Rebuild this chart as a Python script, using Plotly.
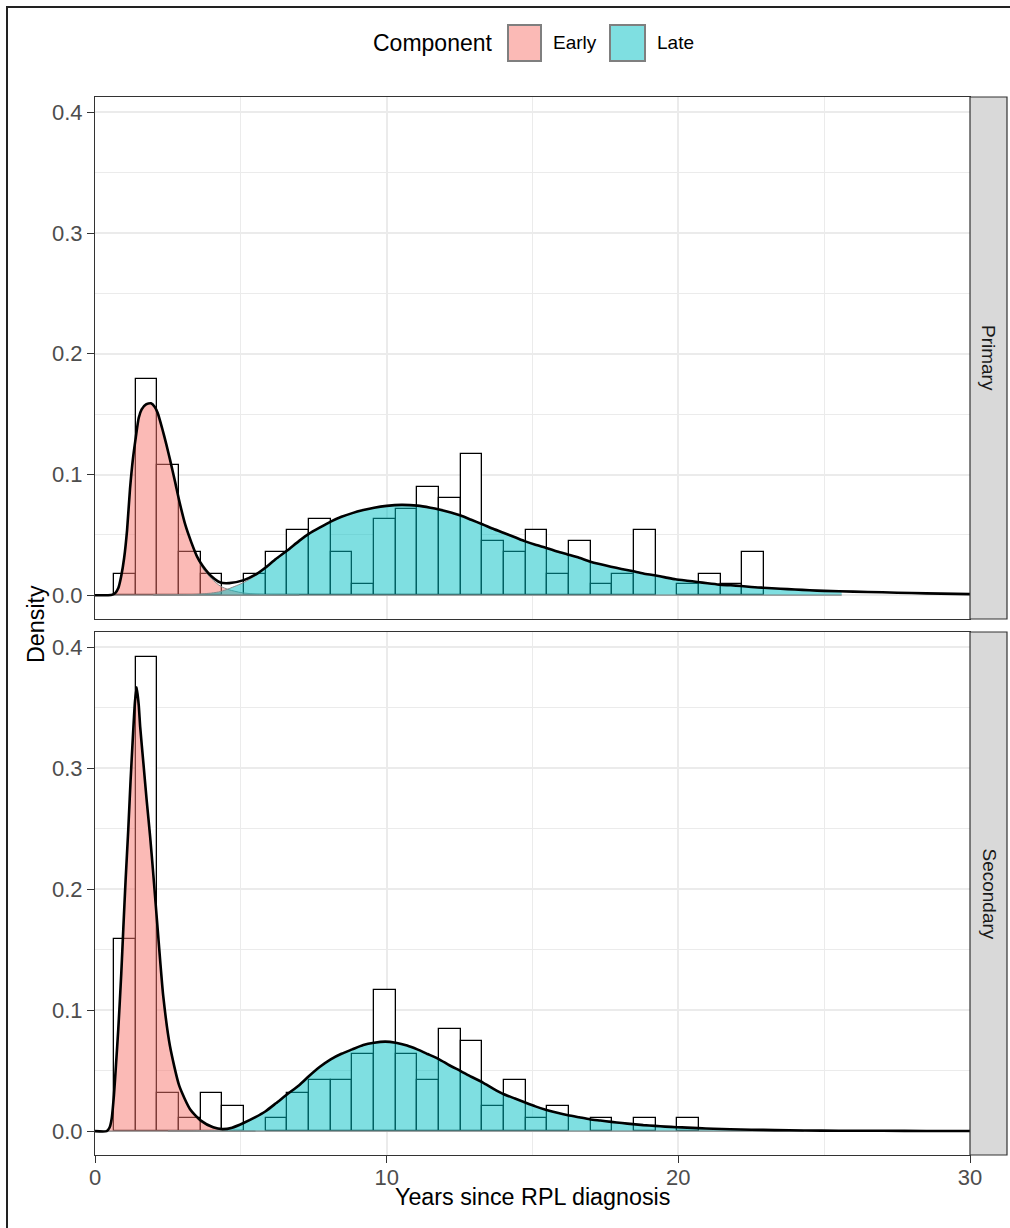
import plotly.graph_objects as go

# ---------------- data ----------------
bin_centers = [1.022, 1.765, 2.508, 3.251, 3.994, 4.737, 5.480, 6.223, 6.966, 7.709,
               8.452, 9.195, 9.938, 10.681, 11.424, 12.167, 12.910, 13.653, 14.396, 15.139,
               15.882, 16.625, 17.368, 18.111, 18.854, 19.597, 20.340, 21.083, 21.826, 22.569]
bin_width = 0.743

primary_density = [0.0179, 0.1795, 0.1077, 0.0359, 0.0179, 0.0, 0.0179, 0.0359, 0.0538, 0.0628,
                   0.0359, 0.0090, 0.0628, 0.0718, 0.0897, 0.0808, 0.1166, 0.0449, 0.0359, 0.0538,
                   0.0179, 0.0449, 0.0090, 0.0179, 0.0538, 0.0, 0.0090, 0.0179, 0.0090, 0.0359]
secondary_density = [0.159, 0.3921, 0.0318, 0.0106, 0.0318, 0.0212, 0.0, 0.0106, 0.0318, 0.0424,
                     0.0424, 0.0636, 0.1166, 0.0636, 0.0424, 0.0848, 0.0742, 0.0212, 0.0424, 0.0106,
                     0.0212, 0.0, 0.0106, 0.0, 0.0106, 0.0, 0.0106, 0.0, 0.0, 0.0]

# Primary: fitted component densities
p_early_x = [0.45, 0.6, 0.7, 0.8, 0.9, 1.0, 1.1, 1.2, 1.3, 1.4, 1.5, 1.6, 1.75, 1.92, 2.05, 2.15,
             2.3, 2.45, 2.57, 2.75, 2.9, 3.1, 3.3, 3.5, 3.7, 4.0, 4.3, 4.6, 5.0, 5.5, 6.0, 7.0]
p_early_y = [0.0, 0.0005, 0.002, 0.006, 0.016, 0.031, 0.054, 0.088, 0.113, 0.131, 0.147, 0.154,
             0.158, 0.159, 0.156, 0.151, 0.1385, 0.1245, 0.1125, 0.0935, 0.077, 0.058, 0.043,
             0.031, 0.022, 0.0135, 0.0075, 0.0045, 0.0022, 0.0009, 0.0003, 0.0]
p_late_x = [2.0, 3.0, 3.5, 4.0, 4.3, 4.6, 5.1, 5.5, 5.85, 6.2, 6.59, 7.0, 7.34, 7.7, 8.08, 8.45,
            8.82, 9.2, 9.57, 10.0, 10.5, 11.05, 11.5, 11.8, 12.2, 12.54, 12.9, 13.3, 13.65, 14.0,
            14.4, 14.73, 15.1, 15.5, 15.85, 16.2, 16.6, 16.96, 17.3, 17.69, 18.05, 18.42, 18.8,
            19.18, 19.55, 19.9, 20.3, 20.65, 21.0, 21.4, 21.8, 22.15, 22.5, 22.9, 23.5, 24.0,
            24.5, 25.0, 25.6]
p_late_y = [0.0, 0.0003, 0.0008, 0.0018, 0.003, 0.0055, 0.0105, 0.0162, 0.0225, 0.0298, 0.037,
            0.045, 0.051, 0.056, 0.061, 0.065, 0.068, 0.0705, 0.0725, 0.074, 0.0748, 0.0742,
            0.0725, 0.071, 0.0685, 0.066, 0.0625, 0.0586, 0.055, 0.0517, 0.048, 0.0448, 0.0418,
            0.039, 0.0362, 0.0338, 0.031, 0.028, 0.0258, 0.0236, 0.0218, 0.020, 0.018, 0.0165,
            0.0148, 0.0132, 0.012, 0.011, 0.0099, 0.0088, 0.0082, 0.0076, 0.0068, 0.0062,
            0.0054, 0.0047, 0.0041, 0.0036, 0.0031]
p_total_x = [0.0, 0.45, 0.6, 0.7, 0.8, 0.9, 1.0, 1.1, 1.2, 1.3, 1.4, 1.5, 1.6, 1.75, 1.92, 2.05,
             2.15, 2.3, 2.45, 2.57, 2.75, 2.9, 3.1, 3.3, 3.5, 3.7, 4.0, 4.3, 4.6, 5.1, 5.5, 5.85,
             6.2, 6.59, 7.0, 7.34, 7.7, 8.08, 8.45, 8.82, 9.2, 9.57, 10.0, 10.5, 11.05, 11.5,
             11.8, 12.2, 12.54, 12.9, 13.3, 13.65, 14.0, 14.4, 14.73, 15.1, 15.5, 15.85, 16.2,
             16.6, 16.96, 17.3, 17.69, 18.05, 18.42, 18.8, 19.18, 19.55, 19.9, 20.3, 20.65, 21.0,
             21.4, 21.8, 22.15, 22.5, 22.9, 23.5, 24.0, 24.5, 25.0, 26.0, 27.0, 28.0, 29.0, 30.0]
p_total_y = [0.0, 0.0, 0.0005, 0.002, 0.006, 0.016, 0.031, 0.054, 0.088, 0.113, 0.131, 0.147,
             0.154, 0.158, 0.159, 0.156, 0.151, 0.1385, 0.1245, 0.1125, 0.0935, 0.077, 0.058,
             0.044, 0.032, 0.024, 0.0155, 0.0105, 0.010, 0.0125, 0.017, 0.023, 0.030, 0.037,
             0.045, 0.051, 0.056, 0.061, 0.065, 0.068, 0.0705, 0.0725, 0.074, 0.0748, 0.0742,
             0.0725, 0.071, 0.0685, 0.066, 0.0625, 0.0586, 0.055, 0.0517, 0.048, 0.0448, 0.0418,
             0.039, 0.0362, 0.0338, 0.031, 0.028, 0.0258, 0.0236, 0.0218, 0.020, 0.018, 0.0165,
             0.0148, 0.0132, 0.012, 0.011, 0.0099, 0.0088, 0.0082, 0.0076, 0.0068, 0.0062,
             0.0054, 0.0047, 0.0041, 0.0036, 0.003, 0.0024, 0.0018, 0.0013, 0.0009]

# Secondary: fitted component densities
s_early_x = [0.4, 0.5, 0.57, 0.65, 0.72, 0.8, 0.9, 0.97, 1.05, 1.14, 1.22, 1.31, 1.37, 1.43,
             1.5, 1.55, 1.66, 1.77, 1.89, 2.0, 2.15, 2.34, 2.57, 2.89, 3.26, 3.63, 4.05, 4.37,
             4.7, 5.11, 5.5]
s_early_y = [0.0, 0.003, 0.01, 0.03, 0.055, 0.085, 0.13, 0.167, 0.208, 0.249, 0.29, 0.331,
             0.355, 0.367, 0.352, 0.334, 0.304, 0.274, 0.2436, 0.212, 0.1666, 0.1116, 0.0704,
             0.0374, 0.0181, 0.0084, 0.0027, 0.0009, 0.0004, 0.0002, 0.0]
s_late_x = [2.5, 3.26, 3.63, 4.05, 4.37, 4.7, 5.11, 5.5, 5.85, 6.2, 6.59, 7.0, 7.34, 7.7, 8.08,
            8.45, 8.82, 9.2, 9.57, 9.95, 10.31, 10.7, 11.05, 11.4, 11.8, 12.15, 12.54, 12.9,
            13.3, 13.65, 14.02, 14.4, 14.75, 15.1, 15.48, 15.85, 16.22, 16.6, 16.96, 17.33,
            17.7, 18.07, 18.44, 18.8, 19.2, 19.55, 19.94, 20.3, 20.68, 21.2, 21.78, 22.5, 23.3,
            24.3]
s_late_y = [0.0, 0.0001, 0.0003, 0.0005, 0.0008, 0.0025, 0.0068, 0.0115, 0.0165, 0.023, 0.0305,
            0.038, 0.0456, 0.053, 0.0594, 0.064, 0.0676, 0.0712, 0.0731, 0.074, 0.0731, 0.0708,
            0.0676, 0.0638, 0.0594, 0.0545, 0.0497, 0.045, 0.0402, 0.0352, 0.0305, 0.027,
            0.0237, 0.0205, 0.0176, 0.0152, 0.0132, 0.0115, 0.0099, 0.0088, 0.0077, 0.0067,
            0.0058, 0.005, 0.0044, 0.0038, 0.0033, 0.0029, 0.0025, 0.002, 0.0016, 0.0012,
            0.0009, 0.0006]
s_total_x = [0.0, 0.4, 0.5, 0.57, 0.65, 0.72, 0.8, 0.9, 0.97, 1.05, 1.14, 1.22, 1.31, 1.37,
             1.43, 1.5, 1.55, 1.66, 1.77, 1.89, 2.0, 2.15, 2.34, 2.57, 2.89, 3.26, 3.63, 4.05,
             4.37, 4.7, 5.11, 5.5, 5.85, 6.2, 6.59, 7.0, 7.34, 7.7, 8.08, 8.45, 8.82, 9.2, 9.57,
             9.95, 10.31, 10.7, 11.05, 11.4, 11.8, 12.15, 12.54, 12.9, 13.3, 13.65, 14.02, 14.4,
             14.75, 15.1, 15.48, 15.85, 16.22, 16.6, 16.96, 17.33, 17.7, 18.07, 18.44, 18.8,
             19.2, 19.55, 19.94, 20.3, 20.68, 21.2, 21.78, 22.5, 23.3, 24.3, 25.5, 27.0, 28.5,
             30.0]
s_total_y = [0.0, 0.0, 0.003, 0.01, 0.03, 0.055, 0.085, 0.13, 0.167, 0.208, 0.249, 0.29, 0.331,
             0.355, 0.367, 0.352, 0.334, 0.304, 0.274, 0.2436, 0.212, 0.1666, 0.1116, 0.0704,
             0.0374, 0.0182, 0.0087, 0.0032, 0.0017, 0.0029, 0.007, 0.0116, 0.0165, 0.023,
             0.0305, 0.038, 0.0456, 0.053, 0.0594, 0.064, 0.0676, 0.0712, 0.0731, 0.074, 0.0731,
             0.0708, 0.0676, 0.0638, 0.0594, 0.0545, 0.0497, 0.045, 0.0402, 0.0352, 0.0305,
             0.027, 0.0237, 0.0205, 0.0176, 0.0152, 0.0132, 0.0115, 0.0099, 0.0088, 0.0077,
             0.0067, 0.0058, 0.005, 0.0044, 0.0038, 0.0033, 0.0029, 0.0025, 0.002, 0.0016,
             0.0012, 0.0009, 0.0006, 0.0004, 0.0003, 0.0002, 0.0001]

panels = ["Primary", "Secondary"]
components = ["Early", "Late"]
x_ticks = [0, 10, 20, 30]
y_ticks = [0.0, 0.1, 0.2, 0.3, 0.4]

# ---------------- style ----------------
FONT = "Liberation Sans, Arial, sans-serif"
EARLY_FILL = "rgba(248,118,109,0.5)"
LATE_FILL = "rgba(0,191,196,0.5)"
AREA_LINE = "#8a8a8a"
GRID = "#EBEBEB"
BORDER = "#333333"
TICK_SIZE = 22
TITLE_SIZE = 23.3

fig = go.Figure()

panel_data = [
    ("x", "y", primary_density, p_early_x, p_early_y, p_late_x, p_late_y, p_total_x, p_total_y),
    ("x2", "y2", secondary_density, s_early_x, s_early_y, s_late_x, s_late_y, s_total_x, s_total_y),
]

for xa, ya, dens, ex, ey, lx, ly, tx, ty in panel_data:
    # histogram bars (white fill, black outline)
    fig.add_trace(go.Bar(
        x=bin_centers, y=[d if d > 0 else None for d in dens], width=bin_width,
        marker=dict(color="white", line=dict(color="black", width=1.3)),
        xaxis=xa, yaxis=ya, showlegend=False, hoverinfo="skip"))
    # component areas
    for cx, cy, col in [(ex, ey, EARLY_FILL), (lx, ly, LATE_FILL)]:
        fig.add_trace(go.Scatter(
            x=cx, y=cy, mode="lines", fill="tozeroy", fillcolor=col,
            line=dict(color=AREA_LINE, width=1, shape="spline", smoothing=0.6),
            xaxis=xa, yaxis=ya, showlegend=False, hoverinfo="skip"))
        fig.add_trace(go.Scatter(
            x=[cx[0], cx[-1]], y=[0, 0], mode="lines",
            line=dict(color=AREA_LINE, width=1.2),
            xaxis=xa, yaxis=ya, showlegend=False, hoverinfo="skip"))
    # total mixture density
    fig.add_trace(go.Scatter(
        x=tx, y=ty, mode="lines",
        line=dict(color="black", width=2.6, shape="spline", smoothing=0.6),
        xaxis=xa, yaxis=ya, showlegend=False, hoverinfo="skip"))

# ---------------- layout ----------------
W, H = 1010, 1228
ML, MR, MT, MB = 95, 40, 97, 73
PW, PH = W - ML - MR, H - MT - MB


def px_x(p):
    return (p - ML) / PW


def px_y(p):
    return (H - MB - p) / PH


top_dom = [px_y(619), 1.0]
bot_dom = [0.0, px_y(632)]
yr = [-0.0197, 0.4127]

axis_common = dict(
    range=[0, 30], showline=True, mirror=True, linecolor=BORDER, linewidth=1.2,
    showgrid=True, gridcolor=GRID, gridwidth=1.6, zeroline=False,
    minor=dict(dtick=5, showgrid=True, gridcolor=GRID, gridwidth=0.9),
)
yaxis_common = dict(
    range=yr, showline=True, mirror=True, linecolor=BORDER, linewidth=1.2,
    showgrid=True, gridcolor=GRID, gridwidth=1.6, zeroline=False,
    tickvals=y_ticks, ticktext=[f"{v:.1f}" for v in y_ticks],
    ticks="outside", ticklen=7, tickwidth=1.2, tickcolor=BORDER,
    tickfont=dict(family=FONT, size=TICK_SIZE, color="#4D4D4D"),
    minor=dict(dtick=0.05, tick0=0, showgrid=True, gridcolor=GRID, gridwidth=0.9),
)

fig.update_layout(
    width=W, height=H,
    margin=dict(l=ML, r=MR, t=MT, b=MB),
    paper_bgcolor="white", plot_bgcolor="white",
    bargap=0, barmode="overlay",
    font=dict(family=FONT, color="black"),
    xaxis=dict(domain=[0, 1], anchor="y", tickvals=x_ticks, showticklabels=False,
               ticks="", **axis_common),
    yaxis=dict(domain=top_dom, anchor="x", **yaxis_common),
    xaxis2=dict(domain=[0, 1], anchor="y2", matches="x", tickvals=x_ticks,
                ticktext=[str(v) for v in x_ticks],
                ticks="outside", ticklen=7, tickwidth=1.2, tickcolor=BORDER,
                ticklabelstandoff=-5,
                tickfont=dict(family=FONT, size=TICK_SIZE, color="#4D4D4D"), **axis_common),
    yaxis2=dict(domain=bot_dom, anchor="x2", **yaxis_common),
    showlegend=False,
)

shapes = []
annotations = []

# facet strips
for name, dom in zip(panels, [top_dom, bot_dom]):
    shapes.append(dict(type="rect", xref="paper", yref="paper",
                       x0=1.0, x1=px_x(1007), y0=dom[0], y1=dom[1],
                       fillcolor="#D9D9D9", line=dict(color=BORDER, width=1.2), layer="above"))
    annotations.append(dict(text=name, xref="paper", yref="paper",
                            x=px_x(989), y=(dom[0] + dom[1]) / 2,
                            xanchor="center", yanchor="middle",
                            textangle=90, showarrow=False,
                            font=dict(family=FONT, size=19, color="#1A1A1A")))

# axis titles
annotations.append(dict(text="Years since RPL diagnosis", xref="paper", yref="paper",
                        x=0.5, y=px_y(1197), xanchor="center", yanchor="middle",
                        showarrow=False, font=dict(family=FONT, size=TITLE_SIZE, color="black")))
annotations.append(dict(text="Density", xref="paper", yref="paper",
                        x=px_x(36), y=px_y(624), textangle=-90, xanchor="center",
                        yanchor="middle", showarrow=False,
                        font=dict(family=FONT, size=TITLE_SIZE, color="black")))

# legend (top, horizontal)
annotations.append(dict(text="Component", xref="paper", yref="paper",
                        x=px_x(495), y=px_y(43), xanchor="right", yanchor="middle",
                        showarrow=False, font=dict(family=FONT, size=23, color="black")))
for lab, col, bx0, bx1, tx in [(components[0], EARLY_FILL, 508, 541, 551),
                               (components[1], LATE_FILL, 610, 645, 655)]:
    shapes.append(dict(type="rect", xref="paper", yref="paper",
                       x0=px_x(bx0), x1=px_x(bx1), y0=px_y(61), y1=px_y(25),
                       fillcolor=col, line=dict(color="#7F7F7F", width=2)))
    annotations.append(dict(text=lab, xref="paper", yref="paper",
                            x=px_x(tx), y=px_y(43), xanchor="left", yanchor="middle",
                            showarrow=False, font=dict(family=FONT, size=19, color="black")))

# outer frame
shapes.append(dict(type="rect", xref="paper", yref="paper",
                   x0=px_x(7), x1=px_x(1014), y0=px_y(1232), y1=px_y(7),
                   fillcolor="rgba(0,0,0,0)", line=dict(color="#222222", width=2)))

fig.update_layout(shapes=shapes, annotations=annotations)

fig.write_html("out.html", config={"displayModeBar": False},
               post_script="document.body.style.margin='0px';document.body.style.overflow='hidden';")
